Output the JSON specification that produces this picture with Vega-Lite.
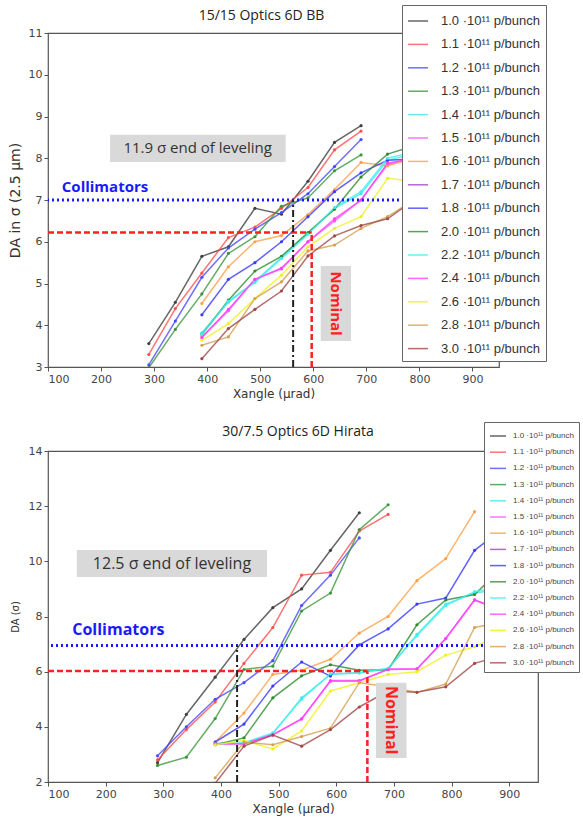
{
  "$schema": "https://vega.github.io/schema/vega-lite/v6.json",
  "padding": {"top": 3, "left": 7, "right": 5, "bottom": 5},
  "background": "white",
  "spacing": 20,
  "config": {
    "view": {"stroke": "#555", "strokeWidth": 1.2},
    "axis": {
      "labelFont": "DejaVu Sans", "labelFontSize": 11, "labelColor": "#444",
      "titleFont": "DejaVu Sans", "titleFontWeight": "normal", "titleColor": "#333",
      "domain": false, "grid": false, "tickColor": "#555", "tickSize": 4, "labelPadding": 2
    },
    "title": {"frame": "group"}
  },
  "resolve": {
    "scale": {"color": "independent", "x": "independent", "y": "independent"},
    "legend": {"color": "independent"}
  },
  "datasets": {
    "one": [{}],
    "top": [
      {"s": "1.0", "x": 290, "y": 3.56}, {"s": "1.0", "x": 340, "y": 4.55}, {"s": "1.0", "x": 390, "y": 5.65}, {"s": "1.0", "x": 440, "y": 5.88}, {"s": "1.0", "x": 490, "y": 6.8}, {"s": "1.0", "x": 540, "y": 6.66}, {"s": "1.0", "x": 590, "y": 7.45}, {"s": "1.0", "x": 640, "y": 8.38}, {"s": "1.0", "x": 690, "y": 8.78},
      {"s": "1.1", "x": 290, "y": 3.3}, {"s": "1.1", "x": 340, "y": 4.4}, {"s": "1.1", "x": 390, "y": 5.25}, {"s": "1.1", "x": 440, "y": 6.1}, {"s": "1.1", "x": 490, "y": 6.35}, {"s": "1.1", "x": 540, "y": 6.8}, {"s": "1.1", "x": 590, "y": 7.3}, {"s": "1.1", "x": 640, "y": 8.2}, {"s": "1.1", "x": 690, "y": 8.65},
      {"s": "1.2", "x": 290, "y": 3.05}, {"s": "1.2", "x": 340, "y": 4.1}, {"s": "1.2", "x": 390, "y": 5.15}, {"s": "1.2", "x": 440, "y": 5.85}, {"s": "1.2", "x": 490, "y": 6.3}, {"s": "1.2", "x": 540, "y": 6.7}, {"s": "1.2", "x": 590, "y": 7.15}, {"s": "1.2", "x": 640, "y": 7.8}, {"s": "1.2", "x": 690, "y": 8.45},
      {"s": "1.3", "x": 290, "y": 2.98}, {"s": "1.3", "x": 340, "y": 3.9}, {"s": "1.3", "x": 390, "y": 4.75}, {"s": "1.3", "x": 440, "y": 5.72}, {"s": "1.3", "x": 490, "y": 6.12}, {"s": "1.3", "x": 540, "y": 6.85}, {"s": "1.3", "x": 590, "y": 7.05}, {"s": "1.3", "x": 640, "y": 7.7}, {"s": "1.3", "x": 690, "y": 8.08},
      {"s": "1.4", "x": 390, "y": 3.82}, {"s": "1.4", "x": 440, "y": 4.55}, {"s": "1.4", "x": 490, "y": 5.05}, {"s": "1.4", "x": 540, "y": 5.62}, {"s": "1.4", "x": 590, "y": 6.2}, {"s": "1.4", "x": 640, "y": 6.8}, {"s": "1.4", "x": 690, "y": 7.15}, {"s": "1.4", "x": 740, "y": 7.95}, {"s": "1.4", "x": 790, "y": 8.1},
      {"s": "1.5", "x": 390, "y": 3.72}, {"s": "1.5", "x": 440, "y": 4.35}, {"s": "1.5", "x": 490, "y": 5.1}, {"s": "1.5", "x": 540, "y": 5.37}, {"s": "1.5", "x": 590, "y": 6.0}, {"s": "1.5", "x": 640, "y": 6.5}, {"s": "1.5", "x": 690, "y": 7.0}, {"s": "1.5", "x": 740, "y": 7.85}, {"s": "1.5", "x": 790, "y": 8.0},
      {"s": "1.6", "x": 390, "y": 4.52}, {"s": "1.6", "x": 440, "y": 5.4}, {"s": "1.6", "x": 490, "y": 6.0}, {"s": "1.6", "x": 540, "y": 6.15}, {"s": "1.6", "x": 590, "y": 6.65}, {"s": "1.6", "x": 640, "y": 7.25}, {"s": "1.6", "x": 690, "y": 7.9}, {"s": "1.6", "x": 740, "y": 7.82}, {"s": "1.6", "x": 790, "y": 8.0},
      {"s": "1.8", "x": 390, "y": 4.25}, {"s": "1.8", "x": 440, "y": 5.1}, {"s": "1.8", "x": 490, "y": 5.5}, {"s": "1.8", "x": 540, "y": 6.0}, {"s": "1.8", "x": 590, "y": 6.6}, {"s": "1.8", "x": 640, "y": 7.2}, {"s": "1.8", "x": 690, "y": 7.65}, {"s": "1.8", "x": 740, "y": 7.95}, {"s": "1.8", "x": 790, "y": 7.98},
      {"s": "2.0", "x": 390, "y": 3.78}, {"s": "2.0", "x": 440, "y": 4.6}, {"s": "2.0", "x": 490, "y": 5.3}, {"s": "2.0", "x": 540, "y": 5.65}, {"s": "2.0", "x": 590, "y": 6.22}, {"s": "2.0", "x": 640, "y": 6.78}, {"s": "2.0", "x": 690, "y": 7.55}, {"s": "2.0", "x": 740, "y": 8.1}, {"s": "2.0", "x": 790, "y": 8.3},
      {"s": "2.2", "x": 390, "y": 3.78}, {"s": "2.2", "x": 440, "y": 4.58}, {"s": "2.2", "x": 490, "y": 5.02}, {"s": "2.2", "x": 540, "y": 5.6}, {"s": "2.2", "x": 590, "y": 6.18}, {"s": "2.2", "x": 640, "y": 6.82}, {"s": "2.2", "x": 690, "y": 7.2}, {"s": "2.2", "x": 740, "y": 8.0}, {"s": "2.2", "x": 790, "y": 8.15},
      {"s": "2.4", "x": 390, "y": 3.7}, {"s": "2.4", "x": 440, "y": 4.38}, {"s": "2.4", "x": 490, "y": 5.1}, {"s": "2.4", "x": 540, "y": 5.35}, {"s": "2.4", "x": 590, "y": 6.0}, {"s": "2.4", "x": 640, "y": 6.55}, {"s": "2.4", "x": 690, "y": 7.0}, {"s": "2.4", "x": 740, "y": 7.88}, {"s": "2.4", "x": 790, "y": 8.0},
      {"s": "2.6", "x": 390, "y": 3.64}, {"s": "2.6", "x": 440, "y": 4.04}, {"s": "2.6", "x": 490, "y": 4.64}, {"s": "2.6", "x": 540, "y": 5.2}, {"s": "2.6", "x": 590, "y": 5.88}, {"s": "2.6", "x": 640, "y": 6.32}, {"s": "2.6", "x": 690, "y": 6.6}, {"s": "2.6", "x": 740, "y": 7.52}, {"s": "2.6", "x": 790, "y": 7.45},
      {"s": "2.8", "x": 390, "y": 3.52}, {"s": "2.8", "x": 440, "y": 3.72}, {"s": "2.8", "x": 490, "y": 4.64}, {"s": "2.8", "x": 540, "y": 5.04}, {"s": "2.8", "x": 590, "y": 5.78}, {"s": "2.8", "x": 640, "y": 5.92}, {"s": "2.8", "x": 690, "y": 6.32}, {"s": "2.8", "x": 740, "y": 6.6}, {"s": "2.8", "x": 790, "y": 7.0},
      {"s": "3.0", "x": 390, "y": 3.2}, {"s": "3.0", "x": 440, "y": 3.92}, {"s": "3.0", "x": 490, "y": 4.38}, {"s": "3.0", "x": 540, "y": 4.82}, {"s": "3.0", "x": 590, "y": 5.66}, {"s": "3.0", "x": 640, "y": 6.14}, {"s": "3.0", "x": 690, "y": 6.39}, {"s": "3.0", "x": 740, "y": 6.55}, {"s": "3.0", "x": 790, "y": 7.0}
    ],
    "bottom": [
      {"s": "1.0", "x": 290, "y": 2.7}, {"s": "1.0", "x": 340, "y": 4.45}, {"s": "1.0", "x": 390, "y": 5.8}, {"s": "1.0", "x": 440, "y": 7.17}, {"s": "1.0", "x": 490, "y": 8.32}, {"s": "1.0", "x": 540, "y": 9.0}, {"s": "1.0", "x": 590, "y": 10.4}, {"s": "1.0", "x": 640, "y": 11.76},
      {"s": "1.1", "x": 290, "y": 2.8}, {"s": "1.1", "x": 340, "y": 3.9}, {"s": "1.1", "x": 390, "y": 4.9}, {"s": "1.1", "x": 440, "y": 6.3}, {"s": "1.1", "x": 490, "y": 7.6}, {"s": "1.1", "x": 540, "y": 9.5}, {"s": "1.1", "x": 590, "y": 9.6}, {"s": "1.1", "x": 640, "y": 11.1}, {"s": "1.1", "x": 690, "y": 11.7},
      {"s": "1.2", "x": 290, "y": 2.95}, {"s": "1.2", "x": 340, "y": 4.0}, {"s": "1.2", "x": 390, "y": 5.0}, {"s": "1.2", "x": 440, "y": 5.6}, {"s": "1.2", "x": 490, "y": 6.4}, {"s": "1.2", "x": 540, "y": 8.4}, {"s": "1.2", "x": 590, "y": 9.5}, {"s": "1.2", "x": 640, "y": 10.85},
      {"s": "1.3", "x": 290, "y": 2.6}, {"s": "1.3", "x": 340, "y": 2.9}, {"s": "1.3", "x": 390, "y": 4.3}, {"s": "1.3", "x": 440, "y": 6.08}, {"s": "1.3", "x": 490, "y": 6.2}, {"s": "1.3", "x": 540, "y": 8.2}, {"s": "1.3", "x": 590, "y": 8.85}, {"s": "1.3", "x": 640, "y": 11.15}, {"s": "1.3", "x": 690, "y": 12.05},
      {"s": "1.4", "x": 390, "y": 3.4}, {"s": "1.4", "x": 440, "y": 3.4}, {"s": "1.4", "x": 490, "y": 3.75}, {"s": "1.4", "x": 540, "y": 5.05}, {"s": "1.4", "x": 590, "y": 5.9}, {"s": "1.4", "x": 640, "y": 5.95}, {"s": "1.4", "x": 690, "y": 6.1}, {"s": "1.4", "x": 740, "y": 7.35}, {"s": "1.4", "x": 790, "y": 8.45}, {"s": "1.4", "x": 840, "y": 8.85}, {"s": "1.4", "x": 890, "y": 9.0},
      {"s": "1.5", "x": 390, "y": 3.4}, {"s": "1.5", "x": 440, "y": 3.4}, {"s": "1.5", "x": 490, "y": 3.7}, {"s": "1.5", "x": 540, "y": 4.3}, {"s": "1.5", "x": 590, "y": 5.65}, {"s": "1.5", "x": 640, "y": 5.65}, {"s": "1.5", "x": 690, "y": 6.1}, {"s": "1.5", "x": 740, "y": 6.1}, {"s": "1.5", "x": 790, "y": 7.2}, {"s": "1.5", "x": 840, "y": 8.6}, {"s": "1.5", "x": 890, "y": 8.2},
      {"s": "1.6", "x": 390, "y": 3.45}, {"s": "1.6", "x": 440, "y": 4.5}, {"s": "1.6", "x": 490, "y": 5.9}, {"s": "1.6", "x": 540, "y": 6.05}, {"s": "1.6", "x": 590, "y": 6.45}, {"s": "1.6", "x": 640, "y": 7.4}, {"s": "1.6", "x": 690, "y": 8.0}, {"s": "1.6", "x": 740, "y": 9.3}, {"s": "1.6", "x": 790, "y": 10.1}, {"s": "1.6", "x": 840, "y": 11.8},
      {"s": "1.8", "x": 390, "y": 3.45}, {"s": "1.8", "x": 440, "y": 4.1}, {"s": "1.8", "x": 490, "y": 5.48}, {"s": "1.8", "x": 540, "y": 6.35}, {"s": "1.8", "x": 590, "y": 5.84}, {"s": "1.8", "x": 640, "y": 6.97}, {"s": "1.8", "x": 690, "y": 7.55}, {"s": "1.8", "x": 740, "y": 8.45}, {"s": "1.8", "x": 790, "y": 8.67}, {"s": "1.8", "x": 840, "y": 10.4}, {"s": "1.8", "x": 890, "y": 11.2},
      {"s": "2.0", "x": 390, "y": 3.35}, {"s": "2.0", "x": 440, "y": 3.6}, {"s": "2.0", "x": 490, "y": 5.05}, {"s": "2.0", "x": 540, "y": 5.85}, {"s": "2.0", "x": 590, "y": 6.25}, {"s": "2.0", "x": 640, "y": 6.05}, {"s": "2.0", "x": 690, "y": 6.07}, {"s": "2.0", "x": 740, "y": 7.7}, {"s": "2.0", "x": 790, "y": 8.6}, {"s": "2.0", "x": 840, "y": 8.8}, {"s": "2.0", "x": 890, "y": 9.8},
      {"s": "2.2", "x": 390, "y": 3.38}, {"s": "2.2", "x": 440, "y": 3.42}, {"s": "2.2", "x": 490, "y": 3.78}, {"s": "2.2", "x": 540, "y": 5.0}, {"s": "2.2", "x": 590, "y": 5.92}, {"s": "2.2", "x": 640, "y": 5.97}, {"s": "2.2", "x": 690, "y": 6.12}, {"s": "2.2", "x": 740, "y": 7.3}, {"s": "2.2", "x": 790, "y": 8.4}, {"s": "2.2", "x": 840, "y": 8.9}, {"s": "2.2", "x": 890, "y": 9.1},
      {"s": "2.4", "x": 390, "y": 3.38}, {"s": "2.4", "x": 440, "y": 3.38}, {"s": "2.4", "x": 490, "y": 3.72}, {"s": "2.4", "x": 540, "y": 4.28}, {"s": "2.4", "x": 590, "y": 5.68}, {"s": "2.4", "x": 640, "y": 5.68}, {"s": "2.4", "x": 690, "y": 6.08}, {"s": "2.4", "x": 740, "y": 6.1}, {"s": "2.4", "x": 790, "y": 7.2}, {"s": "2.4", "x": 840, "y": 8.6}, {"s": "2.4", "x": 890, "y": 8.2},
      {"s": "2.6", "x": 390, "y": 3.35}, {"s": "2.6", "x": 440, "y": 3.5}, {"s": "2.6", "x": 490, "y": 3.2}, {"s": "2.6", "x": 540, "y": 3.85}, {"s": "2.6", "x": 590, "y": 5.3}, {"s": "2.6", "x": 640, "y": 5.6}, {"s": "2.6", "x": 690, "y": 5.9}, {"s": "2.6", "x": 740, "y": 6.0}, {"s": "2.6", "x": 790, "y": 6.6}, {"s": "2.6", "x": 840, "y": 6.9}, {"s": "2.6", "x": 890, "y": 7.4},
      {"s": "2.8", "x": 390, "y": 2.15}, {"s": "2.8", "x": 440, "y": 3.45}, {"s": "2.8", "x": 490, "y": 3.35}, {"s": "2.8", "x": 540, "y": 3.65}, {"s": "2.8", "x": 590, "y": 3.95}, {"s": "2.8", "x": 640, "y": 5.6}, {"s": "2.8", "x": 690, "y": 5.45}, {"s": "2.8", "x": 740, "y": 5.25}, {"s": "2.8", "x": 790, "y": 5.55}, {"s": "2.8", "x": 840, "y": 7.6}, {"s": "2.8", "x": 890, "y": 7.8},
      {"s": "3.0", "x": 390, "y": 1.95}, {"s": "3.0", "x": 440, "y": 3.3}, {"s": "3.0", "x": 490, "y": 3.7}, {"s": "3.0", "x": 540, "y": 3.3}, {"s": "3.0", "x": 590, "y": 3.9}, {"s": "3.0", "x": 640, "y": 4.72}, {"s": "3.0", "x": 690, "y": 5.3}, {"s": "3.0", "x": 740, "y": 5.25}, {"s": "3.0", "x": 790, "y": 5.45}, {"s": "3.0", "x": 840, "y": 6.3}, {"s": "3.0", "x": 890, "y": 6.6}
    ]
  },
  "vconcat": [
    {
      "width": 451,
      "height": 334,
      "title": {"text": "15/15 Optics 6D BB", "font": "Open Sans", "fontSize": 14, "fontWeight": "normal", "color": "#222", "offset": -18, "dx": -12},
      "layer": [
        {
          "data": {"name": "top"},
          "mark": {"type": "line", "clip": true, "strokeWidth": 1.5, "opacity": 0.8, "point": {"filled": true, "size": 10}},
          "encoding": {
            "x": {"field": "x", "type": "quantitative", "scale": {"domain": [100, 950], "nice": false},
                  "axis": {"values": [100, 200, 300, 400, 500, 600, 700, 800, 900], "title": "Xangle (μrad)", "titleFontSize": 12, "titlePadding": 4}},
            "y": {"field": "y", "type": "quantitative", "scale": {"domain": [3, 11], "nice": false, "zero": false},
                  "axis": {"values": [3, 4, 5, 6, 7, 8, 9, 10, 11], "title": "DA in σ (2.5 μm)", "titleFontSize": 14, "titlePadding": 6}},
            "color": {"field": "s", "type": "nominal",
              "scale": {"domain": ["1.0", "1.1", "1.2", "1.3", "1.4", "1.5", "1.6", "1.7", "1.8", "2.0", "2.2", "2.4", "2.6", "2.8", "3.0"],
                        "range": ["#404040", "#ff5050", "#4a4aff", "#3c963c", "#40e8e8", "#ff50ff", "#ffa04a", "#a040d0", "#3a3aff", "#2e8b2e", "#40f0f0", "#ff40ff", "#f0f020", "#d4a050", "#a04848"]},
              "legend": {"orient": "none", "legendX": 354, "legendY": -28, "title": null,
                         "fillColor": "white", "strokeColor": "#666", "padding": 5,
                         "symbolType": "stroke", "symbolSize": 400, "symbolStrokeWidth": 1.5, "symbolOpacity": 0.8,
                         "rowPadding": 5.4, "labelFont": "Liberation Sans", "labelFontSize": 13, "labelColor": "#333", "labelOffset": 12,
                         "labelExpr": "datum.label + ' ·10¹¹ p/bunch'"}}
          }
        },
        {"data": {"name": "one"}, "mark": {"type": "rule", "color": "#1a1aff", "strokeWidth": 3, "strokeDash": [2, 3]}, "encoding": {"y": {"datum": 7}}},
        {"data": {"name": "one"}, "mark": {"type": "rule", "color": "#ff2020", "strokeWidth": 2.5, "strokeDash": [6, 3]}, "encoding": {"x": {"datum": 100}, "x2": {"datum": 597}, "y": {"datum": 6.22}}},
        {"data": {"name": "one"}, "mark": {"type": "rule", "color": "#ff2020", "strokeWidth": 2.5, "strokeDash": [6, 3]}, "encoding": {"x": {"datum": 597}, "y": {"datum": 3}, "y2": {"datum": 6.22}}},
        {"data": {"name": "one"}, "mark": {"type": "rule", "color": "#222", "strokeWidth": 2, "strokeDash": [7, 3, 2, 3]}, "encoding": {"x": {"datum": 562}, "y": {"datum": 3}, "y2": {"datum": 7}}},
        {"data": {"name": "one"}, "mark": {"type": "rect", "color": "#d9d9d9"}, "encoding": {"x": {"datum": 217}, "x2": {"datum": 548}, "y": {"datum": 8.56}, "y2": {"datum": 7.91}}},
        {"data": {"name": "one"}, "mark": {"type": "text", "text": "11.9 σ end of leveling", "font": "Open Sans", "fontSize": 15, "color": "#333"}, "encoding": {"x": {"datum": 382}, "y": {"datum": 8.24}}},
        {"data": {"name": "one"}, "mark": {"type": "text", "text": "Collimators", "font": "Open Sans", "fontSize": 15, "fontWeight": "bold", "color": "#1a1aff", "align": "left"}, "encoding": {"x": {"datum": 126}, "y": {"datum": 7.32}}},
        {"data": {"name": "one"}, "mark": {"type": "rect", "color": "#d9d9d9"}, "encoding": {"x": {"datum": 614}, "x2": {"datum": 671}, "y": {"datum": 5.42}, "y2": {"datum": 3.62}}},
        {"data": {"name": "one"}, "mark": {"type": "text", "text": "Nominal", "font": "Open Sans", "fontSize": 15, "fontWeight": "bold", "color": "#ff2020", "angle": 90}, "encoding": {"x": {"datum": 642}, "y": {"datum": 4.52}}}
      ]
    },
    {
      "width": 490,
      "height": 331,
      "title": {"text": "30/7.5 Optics 6D Hirata", "font": "Open Sans", "fontSize": 14, "fontWeight": "normal", "color": "#222", "offset": -17, "dx": 5},
      "layer": [
        {
          "data": {"name": "bottom"},
          "mark": {"type": "line", "clip": true, "strokeWidth": 1.5, "opacity": 0.8, "point": {"filled": true, "size": 10}},
          "encoding": {
            "x": {"field": "x", "type": "quantitative", "scale": {"domain": [100, 950], "nice": false},
                  "axis": {"values": [100, 200, 300, 400, 500, 600, 700, 800, 900], "title": "Xangle (μrad)", "titleFontSize": 12, "titlePadding": 4}},
            "y": {"field": "y", "type": "quantitative", "scale": {"domain": [2, 14], "nice": false, "zero": false},
                  "axis": {"values": [2, 4, 6, 8, 10, 12, 14], "title": "DA (σ)", "titleFontSize": 10, "titlePadding": 8}},
            "color": {"field": "s", "type": "nominal",
              "scale": {"domain": ["1.0", "1.1", "1.2", "1.3", "1.4", "1.5", "1.6", "1.7", "1.8", "2.0", "2.2", "2.4", "2.6", "2.8", "3.0"],
                        "range": ["#404040", "#ff5050", "#4a4aff", "#3c963c", "#40e8e8", "#ff50ff", "#ffa04a", "#a040d0", "#3a3aff", "#2e8b2e", "#40f0f0", "#ff40ff", "#f0f020", "#d4a050", "#a04848"]},
              "legend": {"orient": "none", "legendX": 436, "legendY": -29, "title": null,
                         "fillColor": "white", "strokeColor": "#666", "padding": 5,
                         "symbolType": "stroke", "symbolSize": 256, "symbolStrokeWidth": 1.5, "symbolOpacity": 0.8,
                         "rowPadding": 3.2, "labelFont": "Liberation Sans", "labelFontSize": 8, "labelColor": "#444", "labelOffset": 6,
                         "labelExpr": "datum.label + ' ·10¹¹ p/bunch'"}}
          }
        },
        {"data": {"name": "one"}, "mark": {"type": "rule", "color": "#1a1aff", "strokeWidth": 3, "strokeDash": [2, 3]}, "encoding": {"y": {"datum": 6.95}}},
        {"data": {"name": "one"}, "mark": {"type": "rule", "color": "#ff2020", "strokeWidth": 2.5, "strokeDash": [6, 3]}, "encoding": {"x": {"datum": 100}, "x2": {"datum": 654}, "y": {"datum": 6.02}}},
        {"data": {"name": "one"}, "mark": {"type": "rule", "color": "#ff2020", "strokeWidth": 2.5, "strokeDash": [6, 3]}, "encoding": {"x": {"datum": 654}, "y": {"datum": 2}, "y2": {"datum": 6.02}}},
        {"data": {"name": "one"}, "mark": {"type": "rule", "color": "#222", "strokeWidth": 2, "strokeDash": [7, 3, 2, 3]}, "encoding": {"x": {"datum": 428}, "y": {"datum": 2}, "y2": {"datum": 6.95}}},
        {"data": {"name": "one"}, "mark": {"type": "rect", "color": "#d9d9d9"}, "encoding": {"x": {"datum": 150}, "x2": {"datum": 480}, "y": {"datum": 10.41}, "y2": {"datum": 9.43}}},
        {"data": {"name": "one"}, "mark": {"type": "text", "text": "12.5 σ end of leveling", "font": "Open Sans", "fontSize": 16, "color": "#333"}, "encoding": {"x": {"datum": 315}, "y": {"datum": 9.92}}},
        {"data": {"name": "one"}, "mark": {"type": "text", "text": "Collimators", "font": "Open Sans", "fontSize": 16, "fontWeight": "bold", "color": "#1a1aff", "align": "left"}, "encoding": {"x": {"datum": 142}, "y": {"datum": 7.5}}},
        {"data": {"name": "one"}, "mark": {"type": "rect", "color": "#d9d9d9"}, "encoding": {"x": {"datum": 669}, "x2": {"datum": 722}, "y": {"datum": 5.6}, "y2": {"datum": 2.87}}},
        {"data": {"name": "one"}, "mark": {"type": "text", "text": "Nominal", "font": "Open Sans", "fontSize": 16, "fontWeight": "bold", "color": "#ff2020", "angle": 90}, "encoding": {"x": {"datum": 695}, "y": {"datum": 4.24}}}
      ]
    }
  ]
}
